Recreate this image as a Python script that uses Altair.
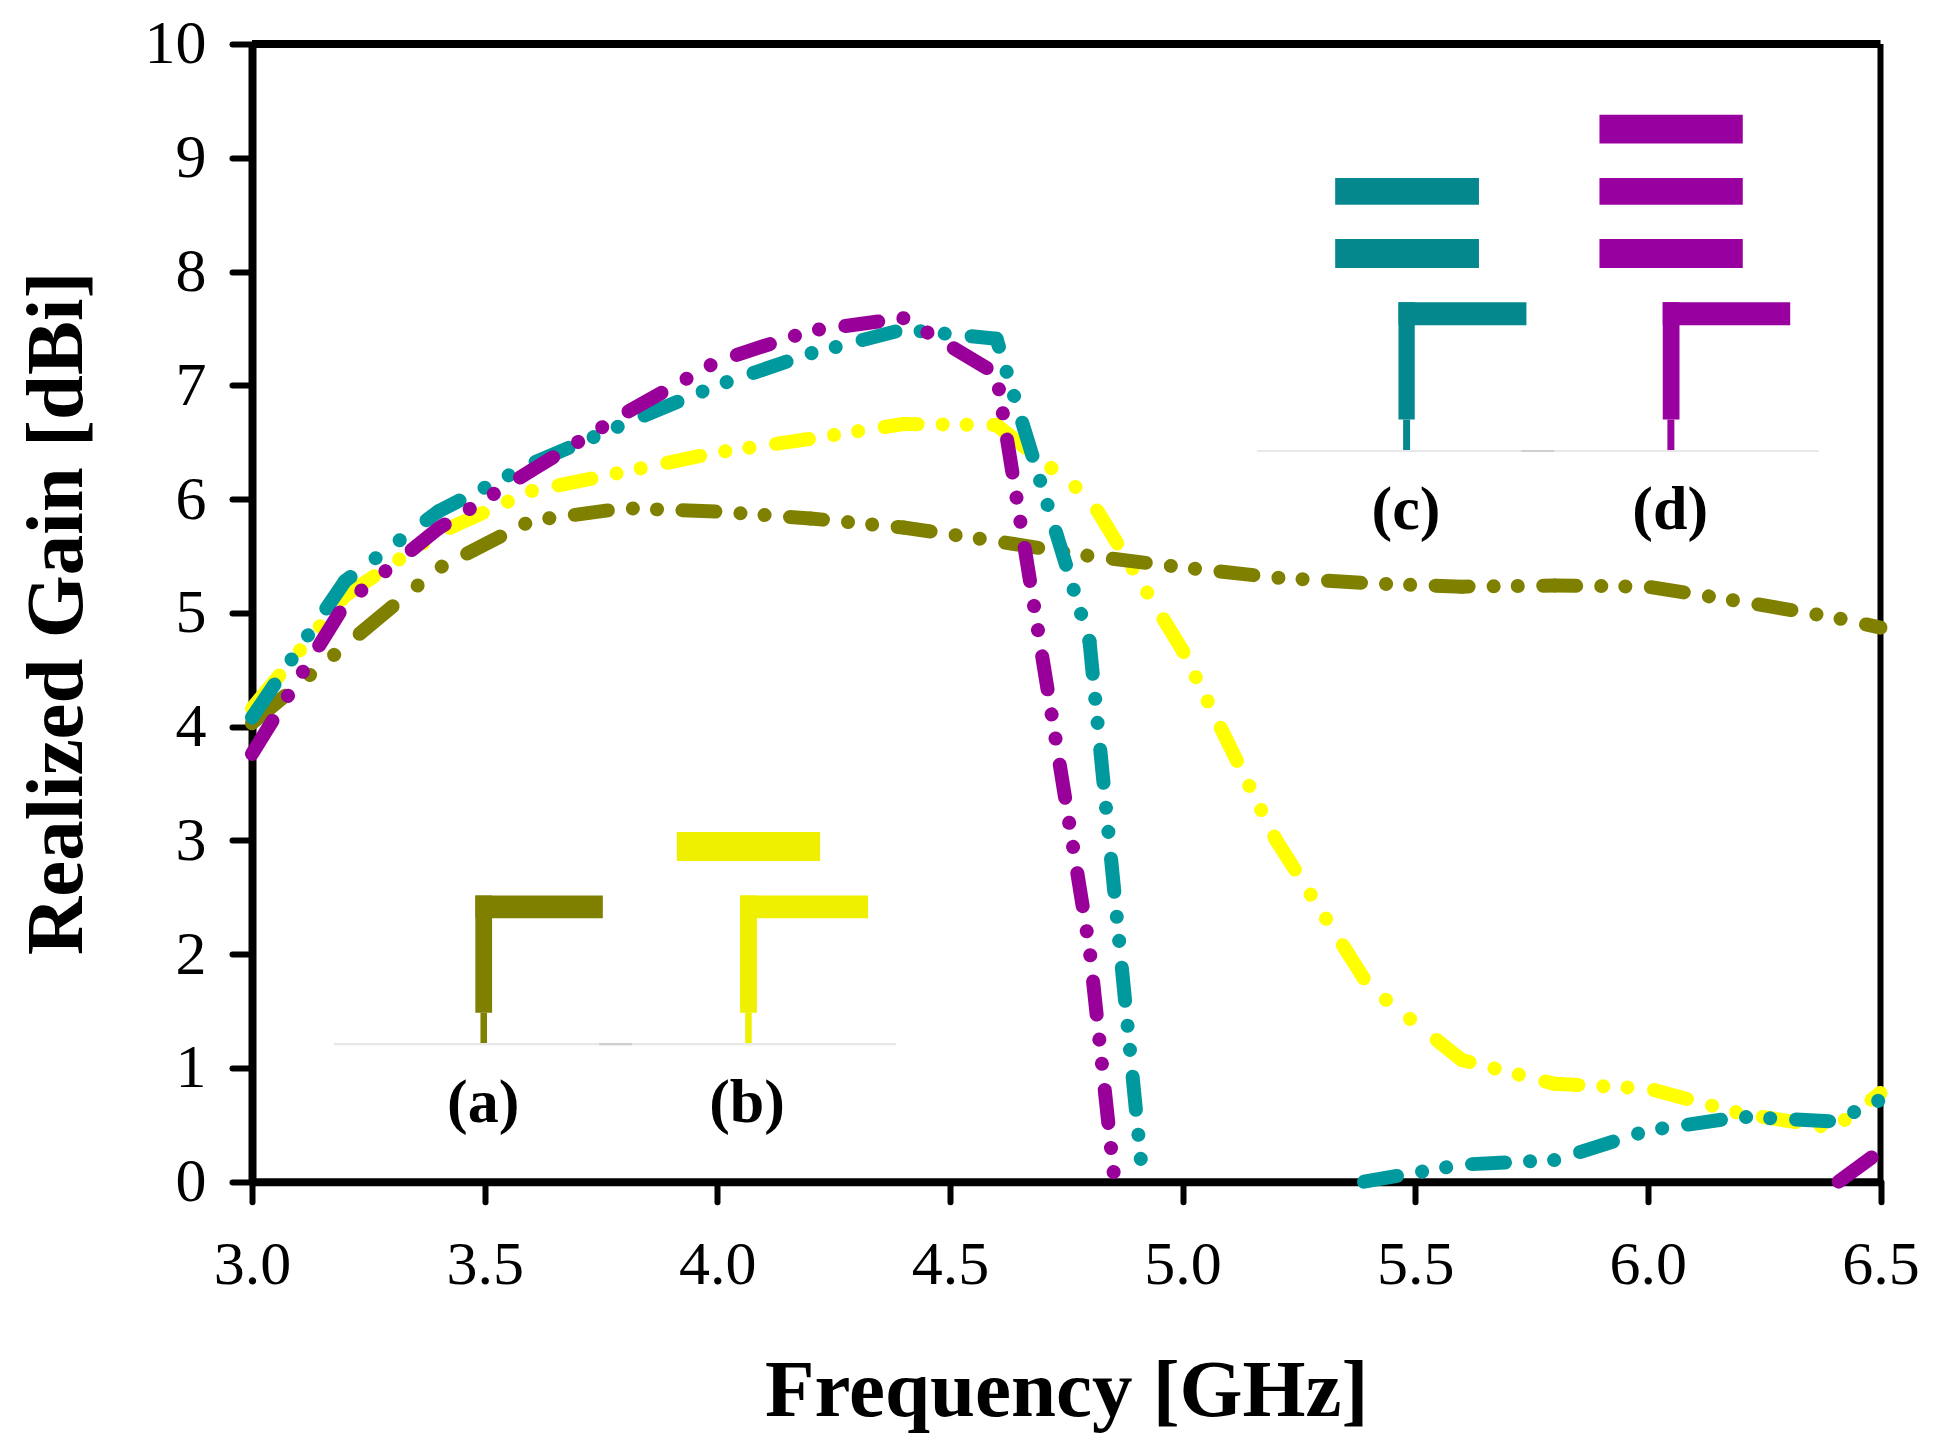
import math
import altair as alt
import pandas as pd

FREQ = [3.0, 3.2, 3.4, 3.6, 3.8, 4.0, 4.2, 4.4, 4.6, 4.8, 5.0, 5.2, 5.4, 5.6, 5.8, 6.0, 6.2, 6.4, 6.5]
GAIN_A = [4.03, 4.71, 5.39, 5.81, 5.92, 5.89, 5.83, 5.75, 5.63, 5.50, 5.40, 5.31, 5.26, 5.23, 5.24, 5.23, 5.10, 4.96, 4.87]
GAIN_B = [4.16, 5.15, 5.70, 6.07, 6.24, 6.41, 6.53, 6.66, 6.65, 6.01, 4.67, 3.01, 1.72, 1.07, 0.86, 0.82, 0.60, 0.47, 0.78]

FREQ_C1 = [3.0, 3.2, 3.4, 3.6, 3.8, 4.0, 4.2, 4.4, 4.6, 4.8, 4.915]
GAIN_C1 = [4.08, 5.28, 5.89, 6.31, 6.66, 7.00, 7.28, 7.49, 7.41, 4.75, 0.0]
FREQ_C2 = [5.39, 5.6, 5.8, 6.0, 6.2, 6.4, 6.5]
GAIN_C2 = [0.0, 0.15, 0.19, 0.45, 0.57, 0.53, 0.72]

FREQ_D1 = [3.0, 3.2, 3.4, 3.6, 3.8, 4.0, 4.2, 4.4, 4.6, 4.8, 4.854]
GAIN_D1 = [3.76, 5.08, 5.74, 6.25, 6.75, 7.21, 7.48, 7.59, 7.10, 2.05, 0.0]
FREQ_D2 = [6.41, 6.5]
GAIN_D2 = [0.0, 0.27]

X_TICKS = [3.0, 3.5, 4.0, 4.5, 5.0, 5.5, 6.0, 6.5]
Y_TICKS = list(range(0, 11))

OLIVE = "#808000"
YELLOW = "#FFFF00"
TEAL = "#009A9E"
PURPLE = "#990099"
OLIVE_I = "#808000"
YELLOW_I = "#EFEF00"
TEAL_I = "#04888E"
PURPLE_I = "#9900A0"
SERIF = "Liberation Serif"

# inset antenna sketches: (colour, x, x2, y, y2) in axis units
INSET = [
    (OLIVE_I, 3.480, 3.754, 2.515, 2.315), (OLIVE_I, 3.480, 3.516, 2.515, 1.485), (OLIVE_I, 3.491, 3.505, 1.485, 1.204),
    (YELLOW_I, 4.049, 4.324, 2.515, 2.315), (YELLOW_I, 4.049, 4.085, 2.515, 1.485), (YELLOW_I, 4.060, 4.074, 1.485, 1.204),
    (YELLOW_I, 3.913, 4.221, 3.074, 2.819),
    (TEAL_I, 5.464, 5.739, 7.729, 7.527), (TEAL_I, 5.464, 5.499, 7.729, 6.699), (TEAL_I, 5.474, 5.489, 6.699, 6.414),
    (TEAL_I, 5.328, 5.637, 8.822, 8.587), (TEAL_I, 5.328, 5.637, 8.286, 8.031),
    (PURPLE_I, 6.032, 6.306, 7.729, 7.527), (PURPLE_I, 6.032, 6.068, 7.729, 6.699), (PURPLE_I, 6.042, 6.057, 6.699, 6.414),
    (PURPLE_I, 5.896, 6.204, 9.378, 9.125), (PURPLE_I, 5.896, 6.204, 8.822, 8.587), (PURPLE_I, 5.896, 6.204, 8.286, 8.031),
    ("#E8E8E8", 3.176, 4.384, 1.218, 1.200), ("#CFCFCF", 3.746, 3.817, 1.218, 1.200),
    ("#E8E8E8", 5.160, 6.368, 6.432, 6.414), ("#CFCFCF", 5.728, 5.798, 6.432, 6.414),
]
LABELS = ["(a)", "(b)", "(c)", "(d)"]
LABEL_X = [3.497, 4.064, 5.480, 6.048]
LABEL_Y = [0.692, 0.692, 5.904, 5.904]

PLOT_W = 1628.5
PLOT_H = 1137.7
PX_PER_GHZ = PLOT_W / 3.5
PX_PER_DBI = PLOT_H / 10

x_scale = alt.Scale(domain=[3.0, 6.5], nice=False, zero=False)
y_scale = alt.Scale(domain=[0, 10], nice=False, zero=False)

x_axis = alt.Axis(values=X_TICKS, format=".1f", title="Frequency [GHz]", grid=False,
                  domainColor="black", domainWidth=8, tickColor="black", tickWidth=6, tickSize=20, tickCap="round",
                  labelFont=SERIF, labelFontSize=62, labelColor="black", labelPadding=33, labelFlush=False, labelOverlap=False,
                  titleFont=SERIF, titleFontSize=81, titleFontWeight="bold", titleColor="black", titlePadding=56)
y_axis = alt.Axis(values=Y_TICKS, format="d", title="Realized Gain [dBi]", grid=False,
                  domainColor="black", domainWidth=8, tickColor="black", tickWidth=6, tickSize=20, tickCap="round",
                  labelFont=SERIF, labelFontSize=62, labelColor="black", labelPadding=26, labelFlush=False, labelOverlap=False,
                  titleFont=SERIF, titleFontSize=81, titleFontWeight="bold", titleColor="black", titlePadding=46)

layers = []
# frame: top and right
top = alt.Chart(pd.DataFrame({"x": [3.0], "x2": [6.5], "y": [10]})).mark_rule(color="black", strokeWidth=8).encode(
    x=alt.X("x:Q", scale=x_scale, axis=x_axis), x2="x2:Q", y=alt.Y("y:Q", scale=y_scale, axis=y_axis))
right = alt.Chart(pd.DataFrame({"x": [6.5], "y": [0], "y2": [10]})).mark_rule(color="black", strokeWidth=6).encode(
    x=alt.X("x:Q"), y=alt.Y("y:Q"), y2="y2:Q")
layers += [top, right]

for (c, x, x2, y, y2) in INSET:
    layers.append(alt.Chart(pd.DataFrame({"x": [x], "x2": [x2], "y": [y], "y2": [y2]})).mark_rect(color=c).encode(
        x="x:Q", x2="x2:Q", y="y:Q", y2="y2:Q"))

# dash-dot-dot style. In the reference the pattern repeats at a constant step measured along
# whichever of x or y changes faster, so each stretch of a curve gets its dash pattern rescaled.
DASH = [33, 25, 0.1, 24, 0.1]
SERIES = [
    (FREQ, GAIN_B, YELLOW, 108.7), (FREQ, GAIN_A, OLIVE, 107.6),
    (FREQ_C1, GAIN_C1, TEAL, 109.0), (FREQ_C2, GAIN_C2, TEAL, 108.0),
    (FREQ_D1, GAIN_D1, PURPLE, 108.4), (FREQ_D2, GAIN_D2, PURPLE, 108.0),
]
for fx, gy, col, period in SERIES:
    pattern = DASH + [period - sum(DASH)]
    phase = 0.0
    for i in range(len(fx) - 1):
        dx = (fx[i + 1] - fx[i]) * PX_PER_GHZ
        dy = (gy[i + 1] - gy[i]) * PX_PER_DBI
        run = max(abs(dx), abs(dy))
        k = math.hypot(dx, dy) / run
        layers.append(alt.Chart(pd.DataFrame({"f": fx[i:i + 2], "g": gy[i:i + 2]})).mark_line(
            color=col, strokeWidth=14, strokeCap="round", strokeJoin="round",
            strokeDash=[d * k for d in pattern], strokeDashOffset=phase * k, clip=False
        ).encode(x=alt.X("f:Q"), y=alt.Y("g:Q")))
        phase = (phase + run) % period

labels = alt.Chart(pd.DataFrame({"t": LABELS, "x": LABEL_X, "y": LABEL_Y})).mark_text(
    font=SERIF, fontSize=62, fontWeight="bold", color="black", baseline="middle", align="center"
).encode(x="x:Q", y="y:Q", text="t:N")
layers.append(labels)

chart = alt.layer(*layers).properties(
    width=PLOT_W, height=PLOT_H,
    padding={"left": 8, "top": 5, "right": 5, "bottom": 5},
).configure_view(stroke=None)

chart.save("out.html", embed_options={"renderer": "svg", "actions": False})
